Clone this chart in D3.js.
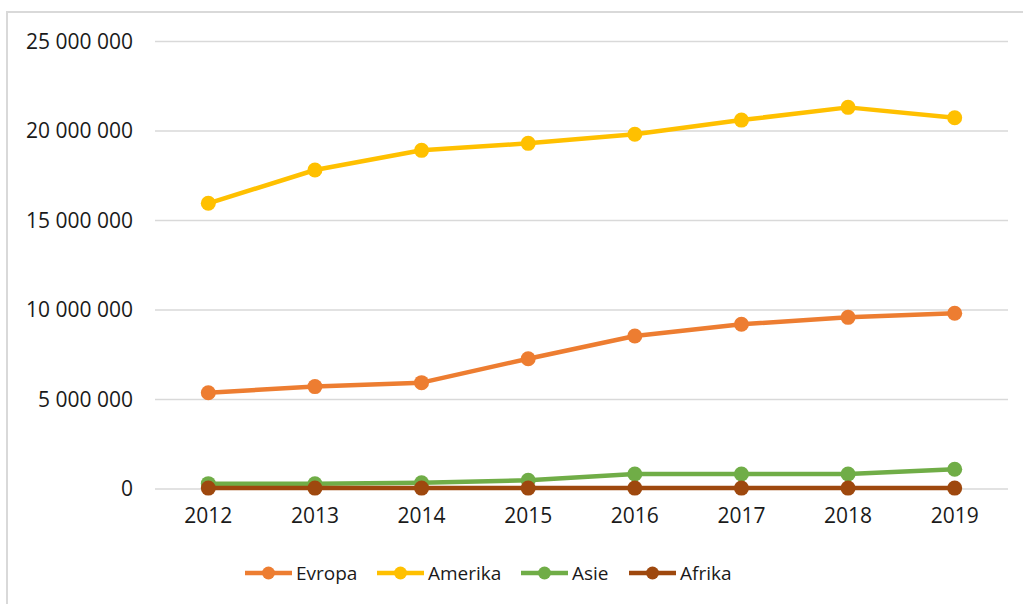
<!DOCTYPE html>
<html lang="cs">
<head>
<meta charset="utf-8">
<title>Evropa, Amerika, Asie, Afrika 2012-2019</title>
<script src="https://cdn.jsdelivr.net/npm/d3@7"></script>
<style>
  body { margin: 0; background: #fff; }
  text { font-family: "Open Sans", sans-serif; fill: #1a1a1a; }
  .axis path, .axis line { display: none; }
</style>
</head>
<body>
<script>
// data
var years = ["2012", "2013", "2014", "2015", "2016", "2017", "2018", "2019"];
var evropa  = [5380000, 5720000, 5940000, 7280000, 8550000, 9200000, 9590000, 9820000];
var amerika = [15960000, 17820000, 18920000, 19310000, 19820000, 20610000, 21320000, 20740000];
var asie    = [300000, 290000, 350000, 490000, 840000, 840000, 840000, 1100000];
var afrika  = [50000, 50000, 50000, 50000, 50000, 50000, 50000, 50000];
var seriesNames = ["Evropa", "Amerika", "Asie", "Afrika"];
var seriesColors = ["#ED7D31", "#FFC000", "#70AD47", "#9E480E"];
var yTicks = [0, 5000000, 10000000, 15000000, 20000000, 25000000];

var allSeries = [evropa, amerika, asie, afrika];

var W = 1023, H = 604;
var margin = {top: 41.5, right: 15, bottom: 115, left: 155};
var width = W - margin.left - margin.right,
    height = H - margin.top - margin.bottom;

var svg = d3.select("body").append("svg")
    .attr("width", W)
    .attr("height", H);

// chart frame (only left and top edges are visible)
svg.append("rect")
    .attr("x", 7).attr("y", 12)
    .attr("width", W + 10).attr("height", H + 10)
    .attr("fill", "none")
    .attr("stroke", "#d9d9d9")
    .attr("stroke-width", 2);

var g = svg.append("g")
    .attr("transform", "translate(" + margin.left + "," + margin.top + ")");

var x = d3.scaleBand().domain(years).range([0, width]);
var y = d3.scaleLinear().domain([0, 25000000]).range([height, 0]);

// gridlines
g.append("g").selectAll("line")
    .data(yTicks)
    .enter().append("line")
    .attr("x1", 0).attr("x2", width)
    .attr("y1", function(d) { return y(d); })
    .attr("y2", function(d) { return y(d); })
    .attr("stroke", "#d9d9d9")
    .attr("stroke-width", 1.3);

var fmt = function(d) { return d3.format(",")(d).replace(/,/g, " "); };

g.append("g")
    .attr("class", "axis")
    .call(d3.axisLeft(y).tickValues(yTicks).tickSize(0).tickPadding(22).tickFormat(fmt))
    .selectAll("text")
    .style("font-size", "21px");

g.append("g")
    .attr("class", "axis")
    .attr("transform", "translate(0," + height + ")")
    .call(d3.axisBottom(x).tickSize(0).tickPadding(19))
    .selectAll("text")
    .style("font-size", "21px");

var line = d3.line()
    .x(function(d, i) { return x(years[i]) + x.bandwidth() / 2; })
    .y(function(d) { return y(d); });

allSeries.forEach(function(values, k) {
  var s = g.append("g");
  s.append("path")
      .datum(values)
      .attr("d", line)
      .attr("fill", "none")
      .attr("stroke", seriesColors[k])
      .attr("stroke-width", 4.5)
      .attr("stroke-linejoin", "round");
  s.selectAll("circle")
      .data(values)
      .enter().append("circle")
      .attr("cx", function(d, i) { return x(years[i]) + x.bandwidth() / 2; })
      .attr("cy", function(d) { return y(d); })
      .attr("r", 7.5)
      .attr("fill", seriesColors[k]);
});

// legend
var legendX = [245, 377, 521, 629];
var legend = svg.append("g").attr("transform", "translate(0,573)");
seriesNames.forEach(function(name, k) {
  var it = legend.append("g").attr("transform", "translate(" + legendX[k] + ",0)");
  it.append("line")
      .attr("x1", 0).attr("x2", 47)
      .attr("stroke", seriesColors[k])
      .attr("stroke-width", 4.5);
  it.append("circle")
      .attr("cx", 23.5).attr("r", 6.5)
      .attr("fill", seriesColors[k]);
  it.append("text")
      .attr("x", 51)
      .attr("dy", "0.35em")
      .style("font-size", "19px")
      .text(name);
});
</script>
</body>
</html>
